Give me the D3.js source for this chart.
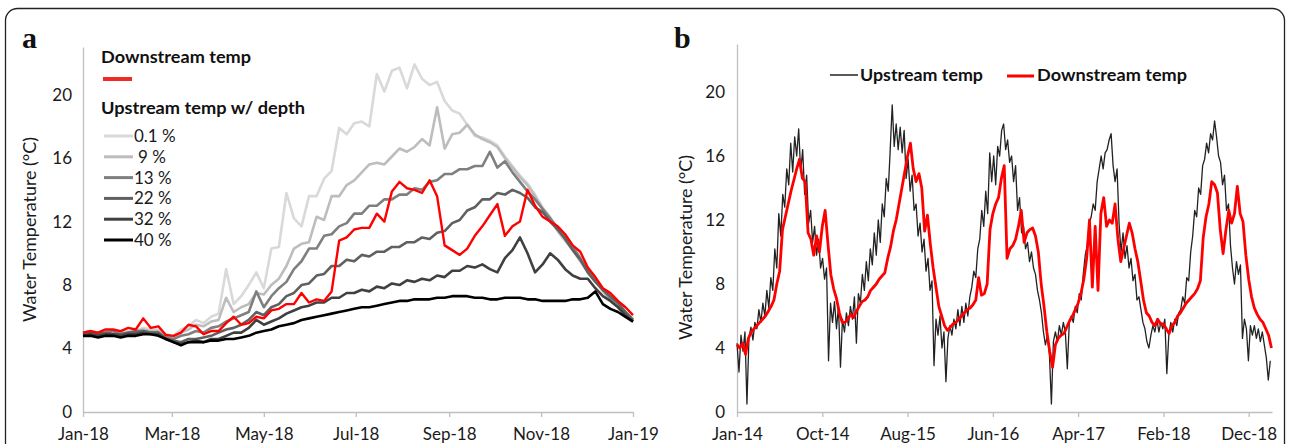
<!DOCTYPE html>
<html><head><meta charset="utf-8">
<script src="https://cdn.jsdelivr.net/npm/d3@7"></script>
<style>html,body{margin:0;padding:0;background:#fff}svg{display:block}</style>
</head><body><svg id="c" width="1290" height="444"></svg>
<script>
// ---------- Panel a data (2018, one value every 5 days from 1 Jan 2018) ----------
const stepA = 5;
const downA = [5.0,5.1,5.0,5.2,5.2,5.1,5.3,5.2,5.9,5.3, 5.4,4.85,4.8,5.0,5.5,5.4,4.9,5.1,5.1,5.6,
  6.0,5.5,5.6,6.0,5.9,6.4,6.5,6.8,6.8,7.5, 6.9,7.1,7.0,7.6,10.8,11.0,11.5,11.6,11.6,12.5,
  12.0,13.9,14.5,14.1,14.0,13.8,14.6,13.6,10.5,10.2, 9.9,10.3,11.1,11.7,12.4,13.1,11.1,11.7,12.0,14.0,
  13.0,12.3,12.0,11.7,11.2,10.5,10.1,9.1,8.5,7.8, 7.5,7.0,6.6,6.1];
const up01 = [5.0,5.1,5.0,5.1,5.1,5.0,5.1,5.1,5.3,5.2, 5.2,4.9,4.8,5.2,5.4,5.8,5.6,6.0,6.2,9.0,
  6.8,7.3,8.0,8.8,7.8,10.3,10.4,13.8,12.2,11.7, 13.6,13.6,14.7,15.2,17.9,17.5,18.2,18.3,18.0,21.3,
  20.2,21.5,21.7,20.4,21.9,21.0,20.6,20.8,19.6,19.0, 18.8,18.1,17.4,17.3,17.1,16.8,16.1,15.5,14.9,14.4,
  13.7,12.9,12.3,11.5,10.9,10.3,9.6,8.9,8.4,7.7, 7.2,6.8,6.3,5.9];
const up09 = [5.0,5.0,4.9,5.0,5.1,5.0,5.0,5.1,5.2,5.1, 5.1,4.8,4.7,5.0,5.2,5.5,5.4,5.7,5.8,7.2,
  6.3,6.6,6.8,7.5,7.4,8.0,8.4,9.2,10.3,10.6, 10.7,12.3,12.1,13.6,13.6,14.3,14.6,15.1,15.6,15.7,
  15.6,16.1,16.6,16.4,16.7,17.2,16.8,19.2,16.6,17.5, 17.6,18.1,17.5,17.2,17.0,16.7,16.0,15.4,14.8,14.3,
  13.6,12.8,12.2,11.4,10.8,10.2,9.5,8.8,8.3,7.6, 7.1,6.7,6.2,5.8];
const up13 = [5.0,5.1,4.9,5.0,5.1,4.9,5.0,5.1,5.1,5.0, 5.0,4.7,4.6,4.8,4.9,5.1,5.0,5.3,5.4,5.7,
  5.9,6.1,6.3,7.6,6.6,7.3,7.8,8.2,9.0,9.5, 10.3,10.3,11.1,11.2,11.7,11.9,12.5,12.5,13.0,13.0,
  13.4,13.4,13.7,13.7,14.1,14.0,14.5,14.6,15.0,15.0, 15.3,15.3,15.5,15.5,16.4,15.4,15.8,15.1,14.5,13.9,
  13.4,12.8,12.2,11.6,11.0,10.4,9.7,8.9,8.4,7.7, 7.2,6.8,6.3,5.8];
const up22 = [4.9,5.0,4.9,5.0,4.9,4.9,5.0,5.0,5.1,5.0, 5.0,4.6,4.5,4.4,4.6,4.6,4.7,4.8,5.0,5.2,
  5.3,5.5,5.8,6.3,6.1,6.6,6.8,7.3,7.5,8.0, 8.1,8.6,8.7,9.2,9.2,9.6,9.5,9.9,9.8,10.1,
  10.1,10.4,10.4,10.7,10.7,11.0,10.9,11.3,11.4,11.9, 12.1,12.7,12.9,13.4,13.4,13.8,13.7,14.0,13.8,13.5,
  12.9,12.6,12.0,11.5,10.9,10.2,9.6,8.8,8.2,7.7, 7.3,6.9,6.3,5.8];
const up32 = [4.8,4.9,4.8,4.9,4.9,4.8,4.9,4.9,5.0,4.9, 4.9,4.6,4.4,4.3,4.4,4.5,4.4,4.6,4.6,4.8,
  5.0,5.0,5.3,5.8,5.5,5.7,5.9,6.2,6.4,6.6, 6.7,6.9,6.9,7.2,7.2,7.5,7.5,7.7,7.6,7.9,
  7.8,8.1,8.0,8.3,8.2,8.4,8.3,8.6,8.5,8.9, 8.9,9.2,9.1,9.3,9.0,8.8,9.7,10.2,11.0,10.0,
  8.8,9.3,10.0,9.6,9.0,8.6,8.4,8.4,7.8,7.3, 7.0,6.6,6.1,5.7];
const up40 = [4.8,4.8,4.7,4.8,4.8,4.7,4.8,4.8,4.9,4.9, 4.8,4.6,4.4,4.2,4.4,4.4,4.4,4.5,4.5,4.6,
  4.6,4.7,4.8,5.0,5.1,5.2,5.4,5.5,5.6,5.8, 5.9,6.0,6.1,6.2,6.3,6.4,6.5,6.6,6.6,6.7,
  6.8,6.9,7.0,7.0,7.1,7.1,7.1,7.2,7.2,7.3, 7.3,7.3,7.2,7.2,7.1,7.1,7.2,7.2,7.2,7.1,
  7.1,7.0,7.0,7.0,7.0,7.1,7.1,7.2,7.6,6.8, 6.5,6.3,6.0,5.7];
const depthLabels = ["0.1 %", "9 %", "13 %", "22 %", "32 %", "40 %"];
const depthSeries = [up01, up09, up13, up22, up32, up40];
const yTicks = [0, 4, 8, 12, 16, 20];

// ---------- Panel b data (from 1 Jan 2014) ----------
const stepUpB = 7;   // upstream: one value every 7 days
const upB = [4.3,2.5,4.8,3.8,5.0,0.5,4.6,5.3,4.5,5.6, 5.2,6.4,5.6,6.8,6.0,7.6,6.5,8.4,7.6,10.2,
  9.0,12.4,11.0,13.6,12.8,15.2,14.2,16.8,15.0,17.2, 16.0,17.7,15.0,16.4,13.6,14.8,11.8,12.6,10.6,11.6,
  9.8,10.8,9.0,9.6,8.3,9.0,3.2,6.8,5.6,6.9, 5.2,6.6,2.8,5.8,5.0,6.2,5.4,6.6,5.8,7.2,
  4.3,7.4,6.8,8.6,7.6,9.4,8.2,10.2,9.2,11.2, 9.8,12.0,10.6,13.0,12.2,14.6,13.8,16.4,19.2,16.6,
  18.0,16.4,17.8,16.2,17.6,14.6,15.8,13.8,14.8,12.6, 13.0,11.0,11.8,10.0,10.8,8.8,9.6,7.6,8.2,2.9,
  5.8,4.8,6.0,4.0,5.0,1.9,4.6,5.4,4.8,5.8, 5.2,6.4,5.4,6.6,5.6,6.8,6.0,7.2,7.8,8.8,
  8.4,10.2,10.8,12.6,11.6,13.8,12.4,16.2,14.4,16.0, 14.2,16.6,16.0,17.6,18.0,16.4,17.0,15.6,16.0,14.4,
  15.4,12.6,13.4,11.2,11.6,10.2,10.6,9.4,10.0,9.0, 8.6,7.6,7.0,6.2,5.0,4.2,4.8,3.6,0.5,4.4,
  5.0,4.4,5.4,4.8,5.6,5.0,2.7,5.6,6.0,5.6, 6.6,6.2,7.4,7.0,8.6,9.8,10.4,11.8,12.2,13.0,
  12.6,14.4,15.2,16.0,15.2,16.2,16.4,17.0,17.4,15.4, 14.4,15.2,11.8,10.0,11.2,9.6,10.4,9.0,9.6,8.2,
  8.6,7.0,7.2,6.4,5.6,5.2,4.4,4.0,4.8,5.4, 5.0,5.8,5.0,5.6,5.2,5.8,2.4,4.8,5.6,5.0,
  5.8,5.4,6.2,6.4,7.2,6.8,8.4,8.2,10.0,11.0, 12.6,12.2,14.0,13.6,15.4,15.8,16.8,16.2,17.4,17.0,
  18.2,17.2,16.0,15.6,14.2,14.8,12.6,13.0,10.4,9.0, 8.0,9.4,8.6,9.2,4.6,5.8,5.2,3.2,5.4,4.8,
  5.4,4.6,5.2,4.4,5.0,4.2,3.4,2.0,3.2];
const stepDownB = 10; // downstream: one value every 10 days
const downB = [4.2,4.0,4.3,3.6,4.6,5.0,5.2,5.4,5.6,5.8, 6.0,6.3,6.6,7.0,8.0,8.8,11.4,12.2,13.0,13.8,
  14.5,15.2,15.8,14.6,14.4,11.2,10.8,9.8,11.0,10.0, 11.6,12.6,10.5,8.6,7.7,7.1,6.2,5.6,5.6,5.8,
  6.1,5.9,6.3,6.6,6.9,7.0,7.2,7.6,7.8,8.0, 8.3,8.5,8.7,9.6,10.3,11.3,12.0,13.0,14.0,15.0,
  16.0,16.8,15.2,14.4,14.9,14.0,11.3,12.3,10.5,9.0, 7.8,6.6,6.0,5.4,5.1,5.3,5.5,5.6,5.8,6.0,
  6.2,6.4,6.5,6.7,7.0,8.4,7.3,7.4,8.0,11.4, 12.4,13.0,13.4,14.6,15.4,9.6,10.2,10.4,10.8,11.6,
  12.6,10.6,11.2,11.4,11.5,11.0,10.0,8.0,6.6,5.0, 3.8,2.8,4.2,4.6,4.8,4.9,5.3,5.7,6.0,6.4,
  6.8,7.4,8.3,9.6,12.0,7.8,11.6,7.6,12.4,13.4, 11.6,12.0,11.8,13.0,10.8,9.4,10.2,11.0,11.8,11.2,
  10.2,9.4,8.2,7.0,6.2,6.0,5.6,5.4,5.8,5.5, 5.5,5.2,4.9,5.4,5.6,6.0,6.2,6.5,6.8,7.0,
  7.2,7.4,7.7,8.2,10.9,12.2,13.0,14.4,14.2,13.7, 11.4,9.9,11.4,12.6,11.8,12.4,14.1,12.4,11.9,9.8,
  8.3,7.2,6.5,6.1,5.8,5.6,5.2,4.8,4.0];
const spanDaysB = 1882;
const tickEveryDaysB = 300;

// ---------- styles ----------
const FONT = "Lato, 'Open Sans', 'DejaVu Sans', sans-serif";
const AXIS = "#bfbfbf";
const TXT = "#1a1a1a";
const RED = "#ff0000";
const depthColors = ["#d9d9d9", "#bdbdbd", "#7f7f7f", "#606060", "#404040", "#000000"];

const svg = d3.select("#c");
svg.append("rect").attr("x", 5.5).attr("y", 8.5).attr("width", 1279).attr("height", 470)
  .attr("rx", 12).attr("fill", "none").attr("stroke", "#222").attr("stroke-width", 1.3);

const DAY = 86400000;
const fmt = d3.utcFormat("%b-%y");

function styleAxis(g) {
  g.select(".domain").attr("stroke", AXIS).attr("stroke-width", 1.3);
  g.selectAll(".tick line").attr("stroke", AXIS).attr("stroke-width", 1.3);
  g.selectAll(".tick text").attr("fill", TXT).style("font-family", FONT).style("font-size", "17px");
}

// ================= Panel a =================
const t0A = Date.UTC(2018, 0, 1);
const xA = d3.scaleUtc().domain([new Date(t0A), new Date(Date.UTC(2019, 0, 1))]).range([83, 633]);
const yA = d3.scaleLinear().domain([0, 23]).range([412, 47]);

const gyA = svg.append("g").attr("transform", "translate(83,0)")
  .call(d3.axisLeft(yA).tickValues(yTicks).tickSize(0).tickSizeOuter(0).tickPadding(11));
styleAxis(gyA);
const gxA = svg.append("g").attr("transform", "translate(0,412)")
  .call(d3.axisBottom(xA).ticks(d3.utcMonth.every(2)).tickFormat(fmt).tickSize(5).tickSizeOuter(0).tickPadding(11));
styleAxis(gxA);

const lineA = d3.line().x((d, i) => xA(new Date(t0A + i * stepA * DAY))).y(d => yA(d));
depthSeries.forEach((s, k) => {
  svg.append("path").datum(s).attr("d", lineA).attr("fill", "none")
    .attr("stroke", depthColors[k]).attr("stroke-width", 2.6).attr("stroke-linejoin", "round");
});
svg.append("path").datum(downA).attr("d", lineA).attr("fill", "none")
  .attr("stroke", RED).attr("stroke-width", 2.4).attr("stroke-linejoin", "round");

// axis title a
svg.append("text").attr("transform", "translate(36,229.5) rotate(-90)").attr("text-anchor", "middle")
  .attr("textLength", 185).attr("lengthAdjust", "spacingAndGlyphs")
  .style("font-family", FONT).style("font-size", "17px").attr("fill", TXT).text("Water Temperature (°C)");
// panel letter
svg.append("text").attr("x", 22).attr("y", 48).style("font-family", "'Liberation Serif', serif")
  .style("font-weight", "bold").style("font-size", "30px").attr("fill", "#111").text("a");

// legend a
svg.append("text").attr("x", 101).attr("y", 63).attr("textLength", 150).attr("lengthAdjust", "spacingAndGlyphs")
  .style("font-family", FONT).style("font-weight", "bold").style("font-size", "17px").attr("fill", "#111").text("Downstream temp");
svg.append("line").attr("x1", 103).attr("x2", 132).attr("y1", 79).attr("y2", 79)
  .attr("stroke", "#ee2b25").attr("stroke-width", 4);
svg.append("text").attr("x", 101).attr("y", 114).attr("textLength", 204).attr("lengthAdjust", "spacingAndGlyphs")
  .style("font-family", FONT).style("font-weight", "bold").style("font-size", "17px").attr("fill", "#111").text("Upstream temp w/ depth");
depthLabels.forEach((lab, k) => {
  const y = 136 + k * 20.8;
  svg.append("line").attr("x1", 104).attr("x2", 133).attr("y1", y).attr("y2", y)
    .attr("stroke", depthColors[k]).attr("stroke-width", 3);
  svg.append("text").attr("x", k === 1 ? 138 : 134).attr("y", y + 6)
    .style("font-family", FONT).style("font-size", "17px").attr("fill", TXT).text(lab);
});

// ================= Panel b =================
const t0B = Date.UTC(2014, 0, 1);
const xB = d3.scaleUtc().domain([new Date(t0B), new Date(t0B + spanDaysB * DAY)]).range([737, 1272]);
const yB = d3.scaleLinear().domain([0, 23]).range([412, 44]);
const tickValsB = d3.range(0, spanDaysB, tickEveryDaysB).map(d => new Date(t0B + d * DAY));

const gyB = svg.append("g").attr("transform", "translate(737,0)")
  .call(d3.axisLeft(yB).tickValues(yTicks).tickSize(0).tickSizeOuter(0).tickPadding(12));
styleAxis(gyB);
const gxB = svg.append("g").attr("transform", "translate(0,412)")
  .call(d3.axisBottom(xB).tickValues(tickValsB).tickFormat(fmt).tickSize(5).tickSizeOuter(0).tickPadding(11));
styleAxis(gxB);

const lineUpB = d3.line().x((d, i) => xB(new Date(t0B + i * stepUpB * DAY))).y(d => yB(d));
const lineDownB = d3.line().x((d, i) => xB(new Date(t0B + i * stepDownB * DAY))).y(d => yB(d));
svg.append("path").datum(upB).attr("d", lineUpB).attr("fill", "none")
  .attr("stroke", "#222").attr("stroke-width", 1.3).attr("stroke-linejoin", "round");
svg.append("path").datum(downB).attr("d", lineDownB).attr("fill", "none")
  .attr("stroke", RED).attr("stroke-width", 2.8).attr("stroke-linejoin", "round");

svg.append("text").attr("transform", "translate(692,247.5) rotate(-90)").attr("text-anchor", "middle")
  .attr("textLength", 185).attr("lengthAdjust", "spacingAndGlyphs")
  .style("font-family", FONT).style("font-size", "17px").attr("fill", TXT).text("Water Temperature (°C)");
svg.append("text").attr("x", 674).attr("y", 48).style("font-family", "'Liberation Serif', serif")
  .style("font-weight", "bold").style("font-size", "30px").attr("fill", "#111").text("b");

// legend b
svg.append("line").attr("x1", 830).attr("x2", 858).attr("y1", 75).attr("y2", 75)
  .attr("stroke", "#222").attr("stroke-width", 1.5);
svg.append("text").attr("x", 860).attr("y", 81).attr("textLength", 123).attr("lengthAdjust", "spacingAndGlyphs")
  .style("font-family", FONT).style("font-weight", "bold").style("font-size", "17px").attr("fill", "#111").text("Upstream temp");
svg.append("line").attr("x1", 1007).attr("x2", 1034).attr("y1", 76).attr("y2", 76)
  .attr("stroke", RED).attr("stroke-width", 3);
svg.append("text").attr("x", 1037).attr("y", 81).attr("textLength", 150).attr("lengthAdjust", "spacingAndGlyphs")
  .style("font-family", FONT).style("font-weight", "bold").style("font-size", "17px").attr("fill", "#111").text("Downstream temp");
</script></body></html>
